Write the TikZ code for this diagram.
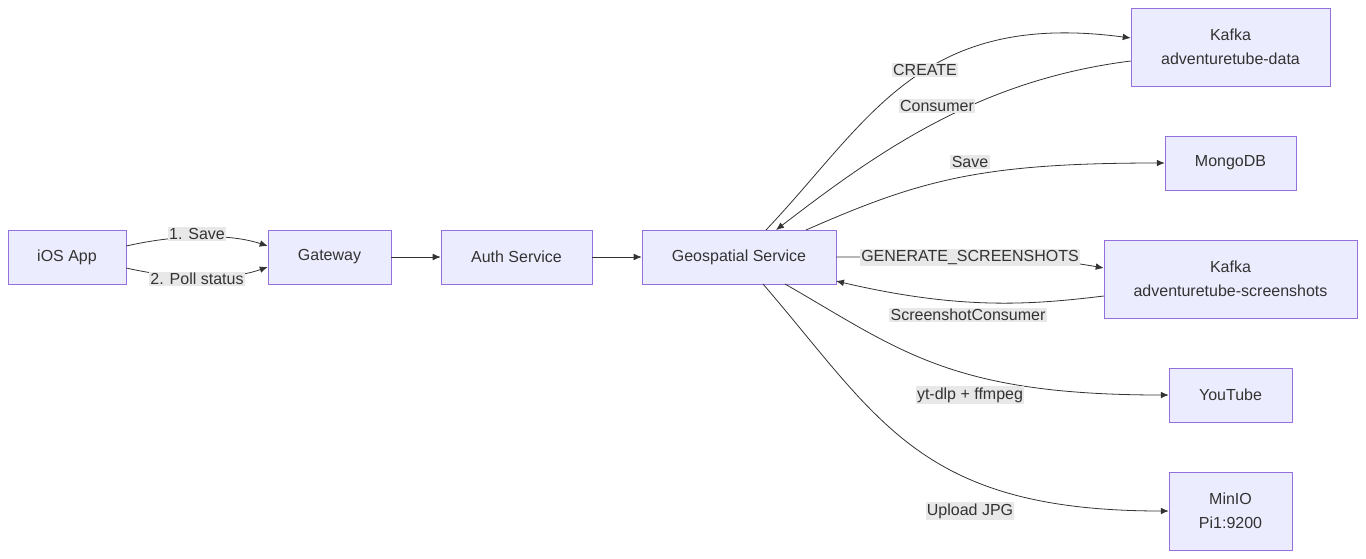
\documentclass[tikz,border=0pt]{standalone}
\usepackage{fontspec}
\setmainfont{Liberation Sans}
\usetikzlibrary{arrows.meta}
\definecolor{boxfill}{HTML}{ECECFF}
\definecolor{boxline}{HTML}{9370DB}
\definecolor{txt}{HTML}{333333}
\definecolor{lblbg}{HTML}{E8E8E8}

\begin{document}
\begin{tikzpicture}[x=0.75pt, y=-0.75pt,
    box/.style = {draw = boxline, fill = boxfill, text = txt,
        align = center, inner sep = 0pt, font = \fontsize{12}{18}\selectfont},
    lbl/.style = {fill = lblbg, text = txt, inner sep = 1pt,
        font = \fontsize{12}{14}\selectfont},
    edge/.style = {draw = txt, line width = 0.6pt, -{Latex[length=6pt, width=5pt]}}
]
    \useasboundingbox (0,0) rectangle (1366,558);
    \node(ios) [box, minimum width = 88.5pt, minimum height = 40.5pt] at (67,257) {iOS App};
    \node(gw) [box, minimum width = 92.25pt, minimum height = 40.5pt] at (329.5,257) {Gateway};
    \node(auth) [box, minimum width = 113.25pt, minimum height = 40.5pt] at (516.5,257) {Auth Service};
    \node(geo) [box, minimum width = 145.5pt, minimum height = 40.5pt] at (739,257) {Geospatial Service};
    \node(kd) [box, minimum width = 149.25pt, minimum height = 58.5pt] at (1230.5,47) {Kafka\\adventuretube-data};
    \node(mongo) [box, minimum width = 98.25pt, minimum height = 40.5pt] at (1230.5,163) {MongoDB};
    \node(ks) [box, minimum width = 189.75pt, minimum height = 58.5pt] at (1230.5,279) {Kafka\\adventuretube-screenshots};
    \node(yt) [box, minimum width = 92.25pt, minimum height = 40.5pt] at (1230.5,395) {YouTube};
    \node(minio) [box, minimum width = 92.25pt, minimum height = 58.5pt] at (1230.5,511) {MinIO\\Pi1:9200};

    % client side
    \draw [edge] (ios.east |- 0,246) .. controls (170,236) and (225,232) .. (gw.west |- 0,246);
    \draw [edge] (ios.east |- 0,268) .. controls (170,278) and (225,282) .. (gw.west |- 0,267);
    \node(l1) [lbl] at (197,234) {1. Save};
    \node(l2) [lbl] at (197,279) {2. Poll status};
    \draw [edge] (gw) -- (auth);
    \draw [edge] (auth) -- (geo);

    % services
    \draw [edge] (766,230) .. controls (870,120) and (920,10) .. (kd.west |- 0,38);
    \draw [edge] (kd.west |- 0,61) .. controls (980,80) and (880,150) .. (776,230);
    \draw [edge] (806,230) .. controls (920,180) and (980,163) .. (mongo.west);
    \draw [edge] (geo.east) -- (970,257) .. controls (1040,258) and (1070,262) .. (ks.west |- 0,268);
    \draw [edge] (ks.west |- 0,296) .. controls (1030,305) and (960,310) .. (836,281);
    \draw [edge] (785,284) .. controls (900,350) and (950,395) .. (yt.west);
    \draw [edge] (763,284) .. controls (880,420) and (920,511) .. (minio.west);
    \node(lc) [lbl] at (925,70) {CREATE};
    \node(lco) [lbl] at (937,106) {Consumer};
    \node(ls) [lbl] at (970,162) {Save};
    \node(lg) [lbl] at (970,257) {GENERATE\_SCREENSHOTS};
    \node(lsc) [lbl] at (968,315) {ScreenshotConsumer};
    \node(ly) [lbl] at (970,395) {yt-dlp + ffmpeg};
    \node(lu) [lbl] at (970,511) {Upload JPG};
\end{tikzpicture}
\end{document}
